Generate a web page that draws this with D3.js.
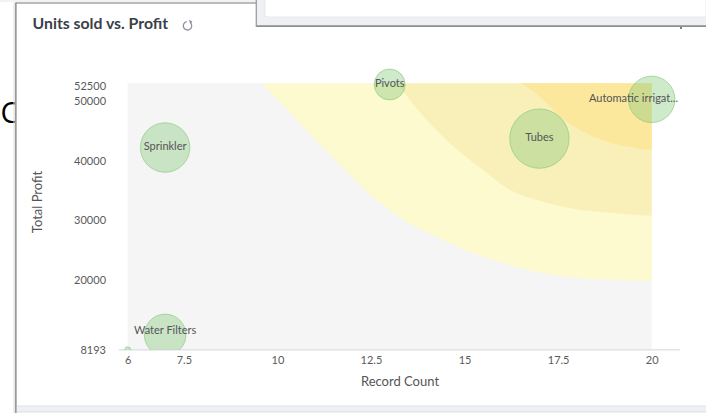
<!DOCTYPE html>
<html>
<head>
<meta charset="utf-8">
<script src="https://cdn.jsdelivr.net/npm/d3@7"></script>
<style>
  html, body { margin: 0; padding: 0; background: #ffffff; }
  svg { display: block; font-family: Lato, "Open Sans", sans-serif; }
</style>
</head>
<body>
<svg id="chart" width="706" height="413"></svg>
<script>
// ---- data ----
const productNames = ["", "Water Filters", "Sprinkler", "Pivots", "Tubes", "Automatic irrigation"];
const recordCount  = [6, 7, 7, 13, 17, 20];
const totalProfit  = [8193, 10700, 42200, 52800, 43700, 50300];
const unitsSold    = [10, 480, 680, 265, 980, 600];

const xTickValues = [6, 7.5, 10, 12.5, 15, 17.5, 20];
const yTickValues = [8193, 20000, 30000, 40000, 50000, 52500];

// background zone boundaries (record count, total profit)
const zoneLightX  = [9.58, 10.34, 10.95, 11.68, 12.48, 12.93, 13.36, 14.27, 15.15, 16.03, 16.94, 17.83, 20];
const zoneLightY  = [53000, 48000, 43960, 39250, 34210, 32025, 30010, 27150, 24630, 22780, 21270, 20430, 19760];
const zoneMidX    = [13.19, 13.99, 14.71, 15.42, 16.22, 17.03, 17.83, 18.9, 20];
const zoneMidY    = [53000, 46815, 42330, 38750, 35050, 33200, 31975, 31185, 30730];
const zoneDarkX   = [16.53, 17.11, 17.56, 18.45, 19.34, 20];
const zoneDarkY   = [53000, 50180, 47370, 44010, 42330, 41770];

// ---- drawing ----
const svg = d3.select("#chart");
const W = 706, H = 413;

const x = d3.scaleLinear().domain([6, 20]).range([127.7, 651.7]);
const y = d3.scaleLinear().domain([8193, 53000]).range([349.8, 83.3]);
const r = d3.scaleSqrt().domain([0, 980]).range([0, 29.7]);

// stray big "C" behind the card
svg.append("text").attr("x", 0.5).attr("y", 122.5)
  .attr("font-family", "'Open Sans', 'Liberation Sans', sans-serif")
  .attr("font-size", 29).attr("fill", "#000").text("C");

// card
svg.append("rect").attr("x", 16).attr("y", 3).attr("width", W - 16).attr("height", 403).attr("fill", "#ffffff");
svg.append("rect").attr("x", 0).attr("y", 0).attr("width", W).attr("height", 2).attr("fill", "#f2f2f2");
svg.append("line").attr("x1", 16).attr("x2", W).attr("y1", 3).attr("y2", 3).attr("stroke", "#a4a4a4").attr("stroke-width", 1.5);
svg.append("line").attr("x1", 15.8).attr("x2", 15.8).attr("y1", 2.5).attr("y2", H).attr("stroke", "#9a9a9a").attr("stroke-width", 1.8);
svg.append("line").attr("x1", 14).attr("x2", 14).attr("y1", 2.5).attr("y2", H).attr("stroke", "#dcdcdc").attr("stroke-width", 1);
svg.append("rect").attr("x", 17).attr("y", 406).attr("width", W - 17).attr("height", H - 406).attr("fill", "#eef0f3");
svg.append("line").attr("x1", 17).attr("x2", W).attr("y1", 406).attr("y2", 406).attr("stroke", "#dde0e6").attr("stroke-width", 1);
svg.append("line").attr("x1", 17).attr("x2", W).attr("y1", 411.5).attr("y2", 411.5).attr("stroke", "#e2e4e8").attr("stroke-width", 1);

// popup overlapping the top
const pop = svg.append("g");
pop.append("rect").attr("x", 256).attr("y", -2).attr("width", W - 256 + 2).attr("height", 28).attr("fill", "#eef0f3");
pop.append("path").attr("d", "M265,-2 L706,-2 L706,17 L268,17 Q265,17 265,14 Z").attr("fill", "#ffffff")
  .attr("stroke", "#e3e6ea").attr("stroke-width", 0.8);
pop.append("line").attr("x1", 256).attr("x2", W).attr("y1", 26.2).attr("y2", 26.2).attr("stroke", "#8e8e8e").attr("stroke-width", 1.8);
pop.append("line").attr("x1", 256.3).attr("x2", 256.3).attr("y1", 0).attr("y2", 27).attr("stroke", "#9c9c9c").attr("stroke-width", 1.3);
svg.append("circle").attr("cx", 681).attr("cy", 28).attr("r", 1).attr("fill", "#555");

// title
svg.append("text").attr("x", 32.5).attr("y", 29.3)
  .attr("font-size", 15.8).attr("font-weight", 700).attr("fill", "#3b3f4a")
  .text("Units sold vs. Profit");
// refresh icon
const ic = svg.append("g").attr("transform", "translate(187.5,25.8)");
const arcGen = d3.arc().innerRadius(4.2).outerRadius(4.2).startAngle(Math.PI * 0.28).endAngle(Math.PI * 1.95);
ic.append("path").attr("d", arcGen()).attr("fill", "none").attr("stroke", "#8d929b").attr("stroke-width", 1.3);
ic.append("path").attr("d", "M1.4,-5.9 L4.9,-4.6 L3.0,-1.6 Z").attr("fill", "#8d929b");

// plot background
svg.append("rect").attr("x", x(6)).attr("y", y(53000))
  .attr("width", x(20) - x(6)).attr("height", y(8193) - y(53000)).attr("fill", "#f5f5f5");

// zones
const zoneLine = d3.line().x(d => x(d[0])).y(d => y(d[1])).curve(d3.curveMonotoneX);
function zone(xs, ys, color) {
  const pts = xs.map((v, i) => [v, ys[i]]);
  const d = zoneLine(pts) + "L" + x(20) + "," + y(53000) + "Z";
  svg.append("path").attr("d", d).attr("fill", color);
}
zone(zoneLightX, zoneLightY, "#fdfacf");
zone(zoneMidX, zoneMidY, "#f9f0b9");
zone(zoneDarkX, zoneDarkY, "#fbe89d");

// axes
svg.append("line").attr("x1", 119).attr("x2", 680).attr("y1", y(8193)).attr("y2", y(8193))
  .attr("stroke", "#d9dde5").attr("stroke-width", 1.2);

const xAxis = svg.append("g").attr("transform", `translate(0,${y(8193)})`)
  .call(d3.axisBottom(x).tickValues(xTickValues).tickSize(0).tickPadding(6.4).tickFormat(d => String(d)));
xAxis.select(".domain").remove();
xAxis.selectAll("text").attr("font-size", 11).attr("fill", "#5a5a5a").attr("font-family", "Lato, sans-serif");

const yAxis = svg.append("g").attr("transform", `translate(${x(6)},0)`)
  .call(d3.axisLeft(y).tickValues(yTickValues).tickSize(0).tickPadding(21.7).tickFormat(d => String(d)));
yAxis.select(".domain").remove();
yAxis.selectAll("text").attr("font-size", 11).attr("fill", "#5a5a5a").attr("font-family", "Lato, sans-serif");

svg.append("text").attr("x", 400).attr("y", 385.5).attr("text-anchor", "middle")
  .attr("font-size", 13).attr("fill", "#555").text("Record Count");
svg.append("text").attr("transform", "translate(42,202) rotate(-90)").attr("text-anchor", "middle")
  .attr("font-size", 13).attr("fill", "#555").text("Total Profit");

// bubbles
svg.append("clipPath").attr("id", "bclip").append("rect")
  .attr("x", 0).attr("y", 0).attr("width", W).attr("height", y(8193));
const data = productNames.map((n, i) => ({ name: n, x: recordCount[i], y: totalProfit[i], s: unitsSold[i] }));
const bg = svg.append("g").attr("clip-path", "url(#bclip)");
bg.selectAll("circle").data(data).join("circle")
  .attr("cx", d => x(d.x)).attr("cy", d => y(d.y)).attr("r", d => r(d.s))
  .attr("fill", "rgb(134,200,124)").attr("fill-opacity", 0.4)
  .attr("stroke", "rgb(120,195,110)").attr("stroke-opacity", 0.55).attr("stroke-width", 1);

const labels = svg.append("g");
labels.selectAll("text").data(data.filter(d => d.name)).join("text")
  .attr("x", d => x(d.x)).attr("y", d => Math.min(y(d.y) - 1.5, y(8193) - 20))
  .attr("dy", "0.35em").attr("text-anchor", "middle")
  .attr("font-size", 11).attr("fill", "#555")
  .text(d => d.name.length > 17 ? d.name.slice(0, 17) + "..." : d.name)
  .each(function(d) {
    const w = this.getComputedTextLength();
    const maxRight = 678;
    if (x(d.x) + w / 2 > maxRight) {
      d3.select(this).attr("text-anchor", "end").attr("x", maxRight);
    }
  });
</script>
</body>
</html>
